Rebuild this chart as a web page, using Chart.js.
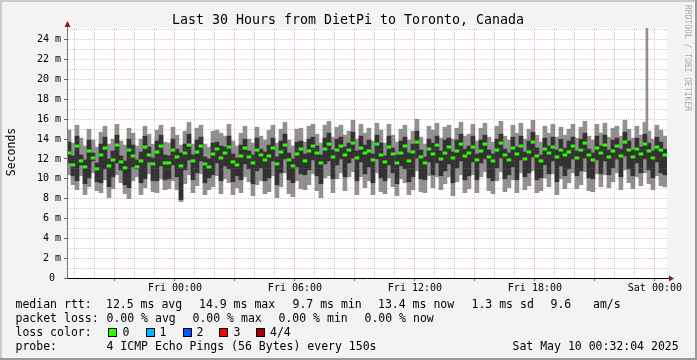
<!DOCTYPE html>
<html>
<head>
<meta charset="utf-8">
<script src="https://cdn.jsdelivr.net/npm/chart.js@4.4.1/dist/chart.umd.min.js"></script>
<style>
  html, body { margin: 0; padding: 0; background: #f3f3f3; }
  canvas { display: block; }
</style>
</head>
<body>
<canvas id="smoke" width="697" height="360"></canvas>
<script>
// one sample every 12 minutes, hours relative to Fri 00:00
const firstSample = -5.3;
const sampleStep = 0.2;

// round trip times in ms: outer smoke (min/max of the 4 pings)
const rttMin = [
  10.4, 9.4, 8.9, 10.3, 8.4, 9.2, 10.6, 8.8, 8.6, 9.9, 8.1, 9.0, 10.4, 9.6, 8.5, 8.0, 9.8, 10.2, 8.4, 9.1, 10.5, 8.7, 8.6, 10.0, 8.9,
  9.0, 9.8, 8.9, 7.7, 9.5, 10.4, 8.6, 9.3, 10.5, 8.4, 8.9, 9.2, 10.3, 8.5, 10.0, 9.6, 8.4, 9.1, 8.6, 10.2, 9.7, 8.3, 9.4, 9.8, 8.5,
  8.7, 10.3, 8.1, 9.2, 10.6, 8.5, 8.2, 9.8, 9.0, 8.9, 9.4, 10.5, 8.8, 8.1, 10.1, 10.3, 8.6, 10.0, 10.6, 8.8, 10.2, 10.7, 8.4, 10.2, 9.1,
  9.8, 8.4, 10.6, 8.7, 8.5, 10.1, 9.2, 8.3, 10.0, 9.6, 8.4, 8.9, 10.8, 8.7, 8.6, 10.3, 9.1, 10.2, 8.9, 9.5, 10.2, 8.3, 9.7, 10.4, 8.6,
  9.0, 10.4, 8.6, 10.2, 10.7, 8.8, 8.5, 9.8, 10.7, 8.7, 9.1, 9.9, 8.6, 10.6, 8.9, 9.3, 10.8, 8.6, 8.8, 10.1, 9.2, 10.5, 8.4, 10.0, 9.0,
  9.6, 10.6, 9.0, 9.4, 10.7, 8.8, 8.7, 10.5, 9.2, 10.4, 9.1, 9.7, 10.6, 8.9, 10.9, 9.6, 9.0, 10.2, 9.3, 10.6, 9.5, 8.9, 10.3, 9.3, 9.2
];
const rttMax = [
  14.9, 13.6, 15.4, 14.1, 13.3, 15.0, 13.9, 13.2, 14.7, 15.3, 13.5, 14.0, 15.5, 13.8, 13.4, 15.1, 14.6, 13.3, 14.0, 15.3, 14.5, 13.5, 14.9, 15.4, 13.7,
  13.6, 15.2, 14.4, 13.4, 14.8, 15.7, 13.5, 15.1, 15.4, 13.5, 13.2, 14.8, 14.9, 14.6, 14.3, 15.5, 13.8, 13.3, 14.6, 15.3, 14.0, 13.6, 15.2, 14.3, 13.9,
  14.9, 15.4, 13.6, 15.0, 15.7, 13.9, 13.3, 15.0, 15.1, 13.7, 15.3, 15.5, 14.5, 13.6, 15.4, 15.8, 14.2, 15.2, 15.4, 14.4, 14.8, 15.9, 14.0, 15.5, 14.6,
  15.1, 13.8, 15.6, 14.9, 13.6, 15.5, 14.4, 13.7, 15.0, 15.4, 13.9, 14.8, 16.0, 14.2, 13.5, 15.3, 14.9, 15.6, 14.1, 15.2, 15.4, 14.0, 15.1, 15.7, 14.3,
  14.5, 15.5, 13.8, 15.1, 15.6, 14.2, 13.7, 15.3, 15.8, 14.3, 13.9, 15.4, 14.6, 15.6, 14.0, 15.0, 15.9, 14.4, 13.7, 15.3, 14.6, 15.5, 14.2, 15.2, 14.4,
  15.0, 15.5, 14.1, 15.2, 15.8, 14.3, 13.9, 15.5, 14.6, 15.6, 14.2, 15.1, 15.3, 14.3, 15.9, 15.0, 14.1, 15.3, 14.4, 15.7, 14.8, 14.0, 15.4, 14.9, 14.3
];
// inner smoke (2nd and 3rd ping)
const rttLow = [
  11.6, 10.3, 9.8, 11.4, 9.5, 10.1, 11.8, 9.7, 9.6, 11.0, 9.2, 10.2, 11.6, 10.9, 9.4, 9.1, 11.2, 11.0, 9.6, 10.0, 11.7, 9.8, 9.8, 11.3, 9.9,
  10.0, 11.4, 10.2, 7.9, 10.9, 11.9, 9.9, 10.6, 11.8, 9.6, 10.1, 10.4, 11.6, 9.8, 11.3, 11.0, 9.7, 10.3, 9.9, 11.5, 11.0, 9.5, 10.8, 11.1, 9.8,
  10.1, 11.8, 9.4, 10.6, 12.0, 9.9, 9.6, 11.2, 10.5, 10.4, 10.9, 11.9, 10.3, 9.5, 11.5, 11.8, 10.0, 11.4, 12.0, 10.2, 11.6, 12.1, 9.8, 11.7, 10.5,
  11.2, 9.6, 12.0, 10.1, 9.8, 11.4, 10.6, 9.5, 11.3, 11.0, 9.7, 10.2, 12.1, 10.0, 9.9, 11.7, 10.4, 11.6, 10.3, 10.8, 11.5, 9.6, 11.1, 11.8, 9.9,
  10.3, 11.7, 9.9, 11.6, 12.0, 10.1, 9.8, 11.1, 12.1, 10.0, 10.4, 11.2, 9.9, 11.9, 10.2, 10.6, 12.2, 9.9, 10.1, 11.4, 10.5, 11.8, 9.7, 11.3, 10.3,
  11.0, 12.0, 10.3, 10.8, 12.1, 10.1, 10.0, 11.9, 10.5, 11.8, 10.4, 11.1, 12.0, 10.2, 12.3, 11.0, 10.3, 11.6, 10.6, 12.0, 10.9, 10.1, 11.7, 10.6, 10.4
];
const rttHigh = [
  13.7, 12.3, 14.3, 12.4, 11.9, 13.9, 12.6, 11.6, 13.5, 14.2, 12.0, 12.8, 14.4, 12.3, 11.8, 14.0, 13.4, 11.9, 12.7, 14.3, 13.2, 12.1, 13.8, 14.4, 12.4,
  12.3, 14.0, 13.0, 12.6, 13.5, 14.5, 12.4, 13.9, 14.2, 12.2, 12.0, 13.6, 13.7, 13.3, 13.2, 14.3, 12.5, 12.1, 13.4, 14.0, 12.8, 12.4, 14.1, 13.0, 12.7,
  13.4, 14.1, 12.2, 13.8, 14.5, 12.6, 12.0, 13.7, 13.8, 12.5, 14.0, 14.2, 13.3, 12.4, 14.1, 14.6, 12.9, 14.0, 14.2, 13.2, 13.6, 14.7, 12.8, 14.3, 13.4,
  13.9, 12.5, 14.4, 13.6, 12.3, 14.3, 13.1, 12.4, 13.8, 14.2, 12.6, 13.5, 14.8, 12.9, 12.2, 14.0, 13.6, 14.3, 12.8, 13.9, 14.1, 12.7, 13.9, 14.5, 13.0,
  13.3, 14.3, 12.5, 13.9, 14.4, 12.9, 12.5, 14.0, 14.5, 13.0, 12.6, 14.2, 13.2, 14.3, 12.7, 13.8, 14.7, 13.1, 12.4, 14.1, 13.3, 14.2, 12.9, 14.0, 13.1,
  13.8, 14.2, 12.8, 14.0, 14.6, 13.0, 12.6, 14.3, 13.3, 14.4, 12.9, 13.9, 14.1, 13.0, 14.7, 13.8, 12.9, 14.1, 13.2, 14.5, 13.6, 12.8, 14.2, 13.7, 13.0
];
const rttMedian = [
  12.6, 11.4, 13.3, 11.8, 11.2, 12.8, 12.1, 11.0, 12.4, 13.1, 11.3, 11.9, 13.4, 11.7, 11.1, 12.9, 12.3, 11.2, 11.8, 13.2, 12.4, 11.5, 12.7, 13.3, 11.6,
  11.6, 12.9, 12.2, 11.3, 12.6, 13.4, 11.8, 12.7, 13.3, 11.5, 11.2, 12.5, 13.0, 12.1, 12.6, 13.2, 11.7, 11.4, 12.3, 13.1, 12.2, 11.6, 12.9, 12.4, 11.9,
  12.3, 13.1, 11.5, 12.7, 13.4, 11.9, 11.3, 12.5, 13.0, 11.8, 12.8, 13.3, 12.6, 11.6, 13.0, 13.5, 12.2, 12.9, 13.3, 12.4, 12.9, 13.6, 12.1, 13.1, 12.6,
  12.8, 11.9, 13.5, 12.4, 11.7, 13.2, 12.5, 11.6, 12.6, 13.3, 11.8, 12.7, 13.7, 12.2, 11.6, 13.0, 12.5, 13.4, 12.0, 12.6, 13.2, 12.1, 12.8, 13.5, 12.3,
  12.6, 13.2, 11.9, 12.8, 13.5, 12.2, 11.8, 12.9, 13.6, 12.4, 11.9, 13.1, 12.5, 13.3, 12.0, 12.7, 13.7, 12.3, 11.8, 13.0, 12.6, 13.2, 12.2, 12.9, 12.4,
  12.7, 13.3, 12.1, 12.9, 13.6, 12.4, 11.9, 13.1, 12.6, 13.4, 12.2, 12.8, 13.3, 12.3, 13.7, 12.9, 12.2, 13.0, 12.5, 13.5, 12.8, 12.1, 13.2, 12.9, 12.4
];

// single outlier ping late Friday evening
const spikeHours = [23.6];
const spikeRange = [[14.6, 25.2]];

const timeTickHours = [0, 6, 12, 18, 24];
const timeTickLabels = ['Fri 00:00', 'Fri 06:00', 'Fri 12:00', 'Fri 18:00', 'Sat 00:00'];

const titleText = 'Last 30 Hours from DietPi to Toronto, Canada';
const rttStats = ['12.5 ms avg', '14.9 ms max', '9.7 ms min', '13.4 ms now', '1.3 ms sd', '9.6', 'am/s'];
const lossStats = ['0.00 % avg', '0.00 % max', '0.00 % min', '0.00 % now'];
const lossNames = ['0', '1', '2', '3', '4/4'];
const lossColors = ['#26ff00', '#00b8ff', '#0059ff', '#ff0000', '#a10000'];
const probeText = '4 ICMP Echo Pings (56 Bytes) every 150s';
const stampText = 'Sat May 10 00:32:04 2025';

const MONO = '"DejaVu Sans Mono", monospace';
const RED = 'rgba(225,40,40,0.33)';
const GRAY = 'rgba(120,120,120,0.38)';

const sampleHours = rttMedian.map((v, i) => firstSample + i * sampleStep);

// background, frame and all rrdtool style texts
const rrdFrame = {
  id: 'rrdFrame',
  beforeDraw(chart) {
    const { ctx, chartArea: a } = chart;
    ctx.save();
    ctx.fillStyle = '#f3f3f3';
    ctx.fillRect(0, 0, chart.width, chart.height);
    ctx.fillStyle = '#ffffff';
    ctx.fillRect(a.left, a.top, a.right - a.left, a.bottom - a.top);
    ctx.restore();
  },
  afterDraw(chart) {
    const { ctx, chartArea: a } = chart;
    ctx.save();

    // arrows on the axes
    ctx.fillStyle = '#8b1a1a';
    ctx.strokeStyle = '#777';
    ctx.beginPath(); ctx.moveTo(a.left + 0.5, a.top); ctx.lineTo(a.left + 0.5, a.top - 2); ctx.stroke();
    ctx.beginPath();
    ctx.moveTo(a.left + 0.5, a.top - 7);
    ctx.lineTo(a.left - 2.5, a.top - 1);
    ctx.lineTo(a.left + 3.5, a.top - 1);
    ctx.fill();
    ctx.strokeStyle = '#000';
    ctx.beginPath(); ctx.moveTo(a.right, a.bottom + 0.5); ctx.lineTo(a.right + 3, a.bottom + 0.5); ctx.stroke();
    ctx.beginPath();
    ctx.moveTo(a.right + 7, a.bottom + 0.5);
    ctx.lineTo(a.right + 2, a.bottom - 2.5);
    ctx.lineTo(a.right + 2, a.bottom + 3.5);
    ctx.fill();

    // title
    ctx.fillStyle = '#000';
    ctx.font = '13.3px ' + MONO;
    ctx.textAlign = 'center';
    ctx.textBaseline = 'alphabetic';
    ctx.fillText(titleText, 348, 24);

    // y axis title
    ctx.font = '11.5px ' + MONO;
    ctx.save();
    ctx.translate(15, 152);
    ctx.rotate(-Math.PI / 2);
    ctx.fillText('Seconds', 0, 0);
    ctx.restore();

    // watermark
    ctx.save();
    ctx.fillStyle = '#aaaaaa';
    ctx.font = '8px ' + MONO;
    ctx.textAlign = 'left';
    ctx.translate(685, 5);
    ctx.rotate(Math.PI / 2);
    ctx.fillText('RRDTOOL / TOBI OETIKER', 0, 0);
    ctx.restore();

    // legend block
    ctx.textAlign = 'left';
    ctx.font = '11.5px ' + MONO;
    ctx.fillStyle = '#000';
    ctx.fillText('median rtt:', 15.5, 308);
    [106, 199, 292.5, 378, 471.5, 550.5, 593].forEach((x, i) => ctx.fillText(rttStats[i], x, 308));
    ctx.fillText('packet loss:', 15.5, 322);
    [106.5, 192.5, 278.5, 364.5].forEach((x, i) => ctx.fillText(lossStats[i], x, 322));
    ctx.fillText('loss color:', 15.5, 336);
    const boxX = [108, 146, 183, 219, 256];
    const nameX = [122.5, 159.5, 196.5, 233.5, 270];
    boxX.forEach((x, i) => {
      ctx.fillStyle = lossColors[i];
      ctx.fillRect(x, 328, 9, 9);
      ctx.strokeStyle = '#000';
      ctx.lineWidth = 1;
      ctx.strokeRect(x + 0.5, 328.5, 8, 8);
      ctx.fillStyle = '#000';
      ctx.fillText(lossNames[i], nameX[i], 336);
    });
    ctx.fillText('probe:', 15.5, 350);
    ctx.fillText(probeText, 106.5, 350);
    ctx.fillText(stampText, 512.5, 350);

    // 3d border of the image
    ctx.fillStyle = '#cbcbcb';
    ctx.fillRect(0, 0, chart.width, 2);
    ctx.fillRect(0, 0, 2, chart.height);
    ctx.fillStyle = '#999999';
    ctx.fillRect(0, chart.height - 2, chart.width, 2);
    ctx.fillRect(chart.width - 2, 0, 2, chart.height);
    ctx.restore();
  }
};

const tickFont = { family: MONO, size: 10 };

new Chart(document.getElementById('smoke'), {
  type: 'bar',
  data: {
    datasets: [
      {
        label: 'median',
        data: sampleHours.map((h, i) => ({ x: h, y: [rttMedian[i] - 0.12, rttMedian[i] + 0.12] })),
        backgroundColor: lossColors[0],
        barThickness: 4,
        grouped: false,
        order: 0
      },
      {
        label: 'inner smoke',
        data: sampleHours.map((h, i) => ({ x: h, y: [rttLow[i], rttHigh[i]] })),
        backgroundColor: '#323232',
        barThickness: 4,
        grouped: false,
        order: 1
      },
      {
        label: 'outlier',
        data: spikeHours.map((h, i) => ({ x: h, y: spikeRange[i] })),
        backgroundColor: '#919191',
        barThickness: 2,
        grouped: false,
        order: 2
      },
      {
        label: 'outer smoke',
        data: sampleHours.map((h, i) => ({ x: h, y: [rttMin[i], rttMax[i]] })),
        backgroundColor: '#919191',
        barThickness: 4,
        grouped: false,
        order: 3
      }
    ]
  },
  options: {
    responsive: false,
    animation: false,
    events: [],
    layout: { padding: { left: 0, top: 28, right: 30, bottom: 62 } },
    plugins: { legend: { display: false }, tooltip: { enabled: false }, title: { display: false } },
    scales: {
      x: {
        type: 'linear',
        min: -5.4,
        max: 24.605,
        offset: false,
        afterFit: (s) => { s.height = 20; },
        grid: {
          offset: false,
          z: 1,
          color: (c) => (c.tick && c.tick.value % 3 === 0 ? RED : GRAY),
          tickColor: (c) => (c.tick && c.tick.value % 3 === 0 ? '#666' : 'rgba(0,0,0,0)'),
          tickLength: 3
        },
        border: { color: '#000', dash: [1, 1], z: 2 },
        ticks: {
          stepSize: 1,
          autoSkip: false,
          maxRotation: 0,
          includeBounds: false,
          padding: 1,
          font: tickFont,
          color: '#000',
          callback: (v) => {
            const k = timeTickHours.indexOf(v);
            return k >= 0 ? timeTickLabels[k] : '';
          }
        }
      },
      y: {
        min: 0,
        max: 25.2,
        afterFit: (s) => { s.width = 67; },
        grid: {
          z: 1,
          color: (c) => (c.tick && c.tick.value % 2 === 0 ? RED : GRAY),
          tickColor: (c) => (c.tick && c.tick.value % 2 === 0 ? '#666' : 'rgba(0,0,0,0)'),
          tickLength: 3
        },
        border: { color: '#777', dash: [1, 1], z: 2 },
        ticks: {
          stepSize: 1,
          autoSkip: false,
          includeBounds: false,
          padding: 3,
          font: tickFont,
          color: '#000',
          callback: (v) => (v % 2 ? '' : (v === 0 ? '0 ' : v + ' m'))
        }
      }
    }
  },
  plugins: [rrdFrame]
});
</script>
</body>
</html>
